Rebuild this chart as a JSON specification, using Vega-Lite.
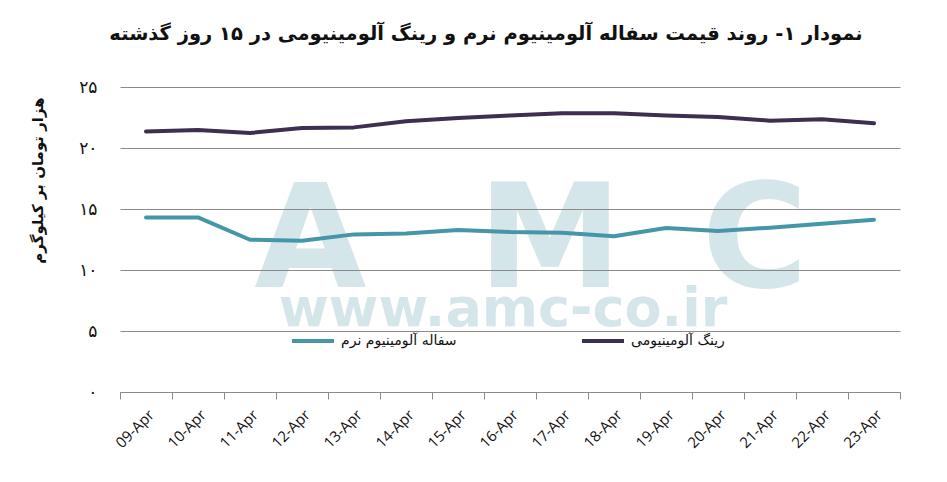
{
  "$schema": "https://vega.github.io/schema/vega-lite/v6.json",
  "width": 780,
  "height": 305,
  "autosize": "none",
  "padding": {"left": 120, "top": 87, "right": 47, "bottom": 90},
  "background": "white",
  "title": {
    "text": "نمودار ۱- روند قیمت سفاله آلومینیوم نرم و رینگ آلومینیومی در ۱۵ روز گذشته",
    "font": "DejaVu Sans",
    "fontSize": 19.5,
    "fontWeight": "bold",
    "color": "#111111",
    "anchor": "middle",
    "dx": -24,
    "offset": 34
  },
  "datasets": {
    "prices": [
      {"date": "09-Apr", "series": "سفاله آلومینیوم نرم", "price": 14.31},
      {"date": "10-Apr", "series": "سفاله آلومینیوم نرم", "price": 14.31},
      {"date": "11-Apr", "series": "سفاله آلومینیوم نرم", "price": 12.48},
      {"date": "12-Apr", "series": "سفاله آلومینیوم نرم", "price": 12.4},
      {"date": "13-Apr", "series": "سفاله آلومینیوم نرم", "price": 12.92},
      {"date": "14-Apr", "series": "سفاله آلومینیوم نرم", "price": 13.0},
      {"date": "15-Apr", "series": "سفاله آلومینیوم نرم", "price": 13.28},
      {"date": "16-Apr", "series": "سفاله آلومینیوم نرم", "price": 13.11},
      {"date": "17-Apr", "series": "سفاله آلومینیوم نرم", "price": 13.06},
      {"date": "18-Apr", "series": "سفاله آلومینیوم نرم", "price": 12.76},
      {"date": "19-Apr", "series": "سفاله آلومینیوم نرم", "price": 13.44},
      {"date": "20-Apr", "series": "سفاله آلومینیوم نرم", "price": 13.2},
      {"date": "21-Apr", "series": "سفاله آلومینیوم نرم", "price": 13.47},
      {"date": "22-Apr", "series": "سفاله آلومینیوم نرم", "price": 13.8},
      {"date": "23-Apr", "series": "سفاله آلومینیوم نرم", "price": 14.12},
      {"date": "09-Apr", "series": "رینگ آلومینیومی", "price": 21.36},
      {"date": "10-Apr", "series": "رینگ آلومینیومی", "price": 21.47},
      {"date": "11-Apr", "series": "رینگ آلومینیومی", "price": 21.23},
      {"date": "12-Apr", "series": "رینگ آلومینیومی", "price": 21.64},
      {"date": "13-Apr", "series": "رینگ آلومینیومی", "price": 21.69},
      {"date": "14-Apr", "series": "رینگ آلومینیومی", "price": 22.2},
      {"date": "15-Apr", "series": "رینگ آلومینیومی", "price": 22.46},
      {"date": "16-Apr", "series": "رینگ آلومینیومی", "price": 22.67},
      {"date": "17-Apr", "series": "رینگ آلومینیومی", "price": 22.84},
      {"date": "18-Apr", "series": "رینگ آلومینیومی", "price": 22.84},
      {"date": "19-Apr", "series": "رینگ آلومینیومی", "price": 22.67},
      {"date": "20-Apr", "series": "رینگ آلومینیومی", "price": 22.54},
      {"date": "21-Apr", "series": "رینگ آلومینیومی", "price": 22.24},
      {"date": "22-Apr", "series": "رینگ آلومینیومی", "price": 22.35},
      {"date": "23-Apr", "series": "رینگ آلومینیومی", "price": 22.02}
    ],
    "watermark": [
      {"txt": "A", "pos": 0.244, "level": 8.6, "size": 145},
      {"txt": "M", "pos": 0.551, "level": 8.6, "size": 145},
      {"txt": "C", "pos": 0.814, "level": 8.6, "size": 145},
      {"txt": "www.amc-co.ir", "pos": 0.491, "level": 5.4, "size": 54}
    ]
  },
  "layer": [
    {
      "data": {"name": "watermark"},
      "mark": {
        "type": "text",
        "font": "DejaVu Sans",
        "fontWeight": "bold",
        "color": "#d5e6eb",
        "align": "center",
        "baseline": "alphabetic"
      },
      "encoding": {
        "x": {"field": "pos", "type": "quantitative", "scale": {"domain": [0, 1]}, "axis": null},
        "y": {"field": "level", "type": "quantitative", "scale": {"domain": [0, 25], "nice": false}, "axis": null},
        "text": {"field": "txt"},
        "size": {"field": "size", "type": "quantitative", "scale": null, "legend": null}
      }
    },
    {
      "data": {"name": "prices"},
      "mark": {"type": "line", "strokeWidth": 4, "strokeCap": "round", "strokeJoin": "round"},
      "encoding": {
        "x": {
          "field": "date",
          "type": "ordinal",
          "sort": null,
          "scale": {"type": "band", "paddingInner": 0, "paddingOuter": 0},
          "axis": {
            "title": null,
            "tickBand": "extent",
            "labelAngle": -45,
            "labelFont": "Open Sans",
            "labelFontSize": 15,
            "labelColor": "#111111",
            "labelPadding": 8,
            "domainColor": "#8a8a8a",
            "tickColor": "#8a8a8a",
            "tickSize": 7,
            "grid": false
          }
        },
        "y": {
          "field": "price",
          "type": "quantitative",
          "scale": {"domain": [0, 25], "nice": false},
          "axis": {
            "title": "هزار تومان بر کیلوگرم",
            "titleFont": "DejaVu Sans",
            "titleFontSize": 15,
            "titleFontWeight": "bold",
            "titleColor": "#111111",
            "titleAngle": 270,
            "titleX": -75,
            "titleY": 93,
            "titleAlign": "center",
            "values": [0, 5, 10, 15, 20, 25],
            "labelExpr": "replace(replace(replace(replace(datum.label, /0/g, '۰'), /1/g, '۱'), /2/g, '۲'), /5/g, '۵')",
            "labelFont": "DejaVu Sans",
            "labelFontSize": 17,
            "labelColor": "#111111",
            "labelPadding": 23,
            "domain": false,
            "ticks": false,
            "grid": true,
            "gridColor": "#8a8a8a",
            "gridWidth": 1,
            "zindex": 1
          }
        },
        "color": {
          "field": "series",
          "type": "nominal",
          "scale": {
            "domain": ["سفاله آلومینیوم نرم", "رینگ آلومینیومی"],
            "range": ["#4596a9", "#3c2f50"]
          },
          "legend": {
            "title": null,
            "orient": "none",
            "direction": "horizontal",
            "legendX": 170,
            "legendY": 231,
            "symbolType": "stroke",
            "symbolSize": 1764,
            "symbolStrokeWidth": 4,
            "labelFont": "DejaVu Sans",
            "labelFontSize": 14,
            "labelColor": "#111111",
            "labelOffset": 5,
            "columnPadding": 117
          }
        }
      }
    }
  ],
  "resolve": {"scale": {"x": "independent", "y": "independent"}},
  "config": {
    "view": {"stroke": null},
    "axis": {"labelFont": "DejaVu Sans"}
  }
}
